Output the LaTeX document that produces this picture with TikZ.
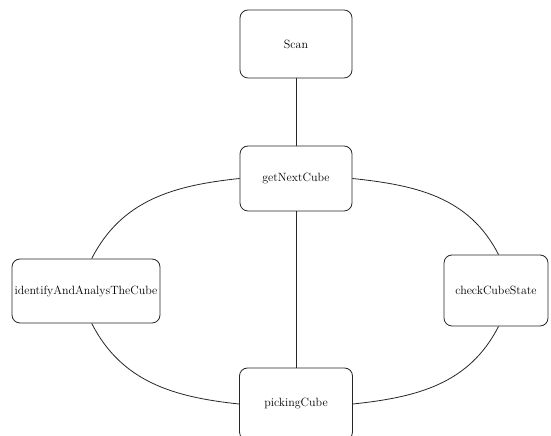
\documentclass[tikz,border=0pt]{standalone}
\begin{document}
\begin{tikzpicture}[x=1bp,y=1bp,
  box/.style={draw=black!85, line width=0.8bp, rounded corners=8bp, fill=white,
    inner sep=0pt, font=\fontsize{12}{14}\selectfont},
  link/.style={draw=black!85, line width=0.8bp}]
\useasboundingbox (0,0) rectangle (551,436);
\node[box, minimum width=112bp, minimum height=68bp] (scan) at (296,392) {Scan};
\node[box, minimum width=112bp, minimum height=65bp] (g) at (296,257.5) {getNextCube};
\node[box, minimum width=148bp, minimum height=64bp] (id) at (86,145) {identifyAndAnalysTheCube};
\node[box, minimum width=104bp, minimum height=71bp] (c) at (496,145.5) {checkCubeState};
\node[box, minimum width=113bp, minimum height=72bp] (p) at (296,32) {pickingCube};
\draw[link] (scan.south) -- (g.north);
\draw[link] (g.south) -- (p.north);
\draw[link] (g.west) to[out=186,in=63] (id.80);
\draw[link] (id.-80) to[out=-63,in=174] (p.west);
\draw[link] (g.east) to[out=-6,in=117] (c.86);
\draw[link] (c.-86) to[out=243,in=6] (p.east);
\end{tikzpicture}
\end{document}
